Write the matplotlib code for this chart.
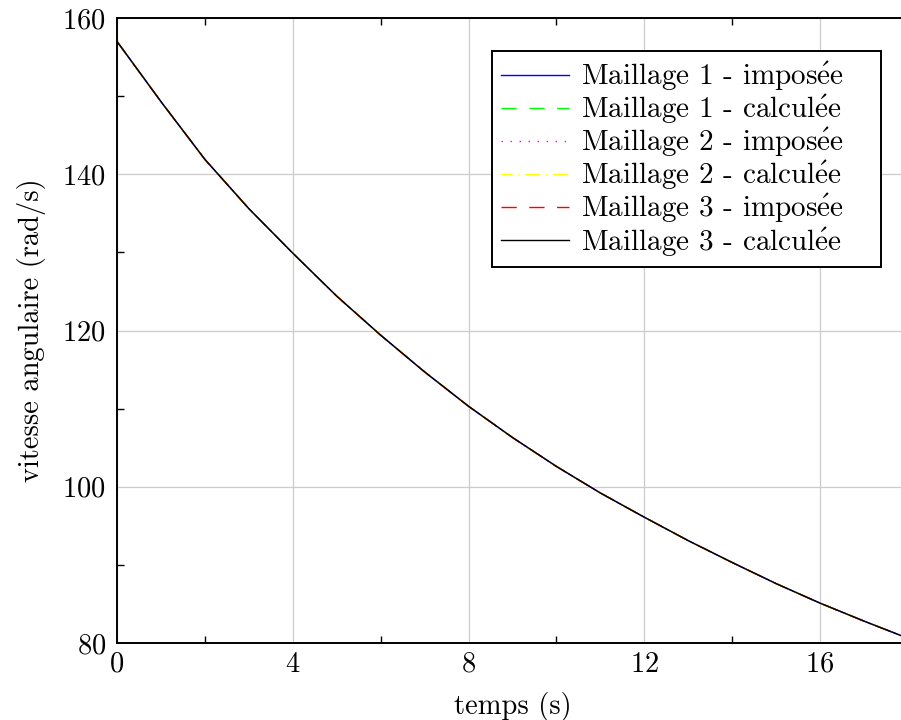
import matplotlib
matplotlib.use("Agg")
import matplotlib.pyplot as plt
from matplotlib.ticker import MultipleLocator

plt.rcParams['font.family'] = ['cmr10', 'DejaVu Serif']
plt.rcParams['mathtext.fontset'] = 'cm'
plt.rcParams['axes.formatter.use_mathtext'] = True

# time (s)
t = [0, 1, 2, 3, 4, 5, 6, 7, 8, 9, 10, 11, 12, 13, 14, 15, 16, 17, 18]
# angular speed (rad/s) (all meshes overlap)
w_m1_imp = [157.0, 149.3, 141.9, 135.6, 129.9, 124.4, 119.4, 114.7, 110.3, 106.3,
            102.6, 99.2, 96.1, 93.1, 90.3, 87.6, 85.1, 82.8, 80.6]
w_m1_calc = list(w_m1_imp)
w_m2_imp = list(w_m1_imp)
w_m2_calc = list(w_m1_imp)
w_m3_imp = list(w_m1_imp)
w_m3_calc = list(w_m1_imp)

E = r"$\acute{\mathrm{e}}$"
labels = ["Maillage 1 - impos" + E + "e", "Maillage 1 - calcul" + E + "e",
          "Maillage 2 - impos" + E + "e", "Maillage 2 - calcul" + E + "e",
          "Maillage 3 - impos" + E + "e", "Maillage 3 - calcul" + E + "e"]
series = [w_m1_imp, w_m1_calc, w_m2_imp, w_m2_calc, w_m3_imp, w_m3_calc]
colors = ["#0000ff", "#00ff00", "#ff00ff", "#ffff00", "#ff0000", "#000000"]
styles = ["-", (0, (11, 9)), (0, (1, 5.5)), (3, (11, 4, 1, 4)), (0, (11, 9)), "-"]

FS = 20.5
fig = plt.figure(figsize=(9.01, 7.2), dpi=100)
ax = fig.add_axes([117/901, 1-643/720, (908-117)/901, (643-18)/720])

for s, c, ls, lab in zip(series, colors, styles, labels):
    ax.plot(t, s, color=c, linestyle=ls, linewidth=1.0, label=lab)

ax.set_xlim(0, 18)
ax.set_ylim(80, 160)
ax.xaxis.set_major_locator(MultipleLocator(4))
ax.xaxis.set_minor_locator(MultipleLocator(2))
ax.yaxis.set_major_locator(MultipleLocator(20))
ax.yaxis.set_minor_locator(MultipleLocator(10))
ax.grid(True, which='major', color='#cccccc', linewidth=0.9)
ax.set_axisbelow(True)
ax.tick_params(which='both', direction='in', top=True, right=True,
               length=5, width=1.0, labelsize=FS)
ax.tick_params(axis='x', pad=6)
ax.tick_params(axis='y', pad=8)
ax.tick_params(which='major', length=0)
for sp in ax.spines.values():
    sp.set_linewidth(1.4)

ax.set_xlabel("temps (s)", fontsize=FS, labelpad=10)
ax.set_ylabel("vitesse angulaire (rad/s)", fontsize=FS, labelpad=12)

x0 = 0.4741
x1 = 0.9659
leg = ax.legend(loc='upper left', bbox_to_anchor=(x0, 0.9472, x1 - x0, 0), mode='expand',
                borderaxespad=0, fontsize=21, fancybox=False, framealpha=1,
                edgecolor='black', handlelength=2.35, handletextpad=0.4,
                labelspacing=0.0, borderpad=0.3)
leg.get_frame().set_linewidth(1.4)

fig.savefig("out.png", dpi=100)
